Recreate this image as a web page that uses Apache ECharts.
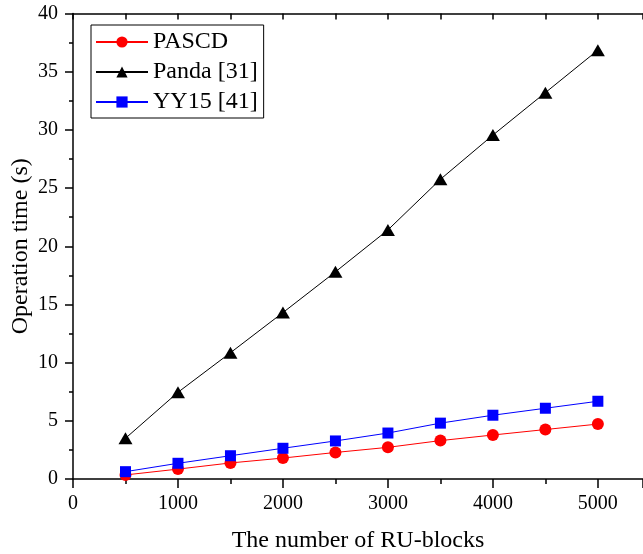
<!DOCTYPE html>
<html>
<head>
<meta charset="utf-8">
<script src="https://cdn.jsdelivr.net/npm/echarts@6/dist/echarts.min.js"></script>
<style>
  html, body { margin: 0; padding: 0; background: #fff; }
  #chart { width: 643px; height: 554px; }
</style>
</head>
<body>
<div id="chart"></div>
<script>
const blocks = [500, 1000, 1500, 2000, 2500, 3000, 3500, 4000, 4500, 5000];
const pascd = [0.35, 0.85, 1.38, 1.8, 2.28, 2.72, 3.3, 3.78, 4.25, 4.72];
const panda = [3.5, 7.45, 10.85, 14.3, 17.8, 21.4, 25.75, 29.55, 33.2, 36.85];
const yy15 = [0.63, 1.35, 2.0, 2.64, 3.27, 3.95, 4.8, 5.48, 6.08, 6.68];

const font = '"Liberation Serif", "Times New Roman", serif';
const toPairs = (vals) => blocks.map((b, i) => [b, vals[i]]);

const chart = echarts.init(document.getElementById("chart"));
chart.setOption({
  animation: false,
  backgroundColor: "#fff",
  textStyle: { fontFamily: font, color: "#000" },
  grid: { left: 73, top: 13.5, right: 0, bottom: 75, outerBoundsMode: "none" },
  legend: {
    orient: "vertical",
    left: 91,
    top: 25,
    padding: [5, 6, 4, 4],
    itemWidth: 52,
    itemHeight: 14,
    itemGap: 6,
    borderColor: "#000",
    borderWidth: 1,
    selectedMode: false,
    textStyle: { fontFamily: font, fontSize: 24, color: "#000" },
    data: ["PASCD", "Panda [31]", "YY15 [41]"],
  },
  xAxis: [
    {
      type: "value",
      position: "bottom",
      min: 0,
      max: 5430,
      interval: 1000,
      name: "The number of RU-blocks",
      nameLocation: "middle",
      nameGap: 50,
      nameTextStyle: { fontFamily: font, fontSize: 24, color: "#000" },
      axisLine: { lineStyle: { color: "#000", width: 1.5 } },
      axisTick: { inside: false, length: 9, lineStyle: { color: "#000", width: 1.5 } },
      minorTick: { show: true, splitNumber: 2, length: 5, lineStyle: { color: "#000", width: 1.5 } },
      axisLabel: {
        fontFamily: font,
        fontSize: 20,
        color: "#000",
        margin: 15,
        formatter: (v) => (v % 1000 === 0 ? String(v) : ""),
      },
      splitLine: { show: false },
    },
    {
      type: "value",
      position: "top",
      min: 0,
      max: 5430,
      interval: 500,
      axisLine: { lineStyle: { color: "#000", width: 1.5 } },
      axisTick: { inside: true, length: 6, lineStyle: { color: "#000", width: 1.5 } },
      axisLabel: { show: false },
      splitLine: { show: false },
    },
  ],
  yAxis: {
    type: "value",
    min: 0,
    max: 40,
    interval: 5,
    name: "Operation time (s)",
    nameLocation: "middle",
    nameGap: 40,
    nameMoveOverlap: false,
    nameTextStyle: { fontFamily: font, fontSize: 24, color: "#000" },
    axisLine: { show: true, lineStyle: { color: "#000", width: 1.5 } },
    axisTick: { show: true, inside: false, length: 8, lineStyle: { color: "#000", width: 1.5 } },
    minorTick: { show: true, splitNumber: 2, length: 4, lineStyle: { color: "#000", width: 1.5 } },
    axisLabel: { fontFamily: font, fontSize: 20, color: "#000", margin: 15 },
    splitLine: { show: false },
  },
  series: [
    {
      name: "PASCD",
      type: "line",
      data: toPairs(pascd),
      symbol: "circle",
      symbolSize: 12,
      lineStyle: { color: "#ff0000", width: 1 },
      itemStyle: { color: "#ff0000" },
      z: 3,
    },
    {
      name: "Panda [31]",
      type: "line",
      data: toPairs(panda),
      symbol: "triangle",
      symbolSize: [14, 12],
      lineStyle: { color: "#000", width: 1 },
      itemStyle: { color: "#000" },
      z: 2,
    },
    {
      name: "YY15 [41]",
      type: "line",
      data: toPairs(yy15),
      symbol: "rect",
      symbolSize: 11,
      lineStyle: { color: "#0000ff", width: 1 },
      itemStyle: { color: "#0000ff" },
      z: 4,
    },
  ],
});
</script>
</body>
</html>
